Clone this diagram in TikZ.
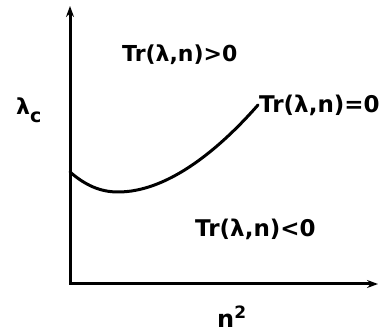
\documentclass[tikz,border=0pt]{standalone}
\usepackage{fontspec}
\setmainfont{DejaVu Sans}
\usetikzlibrary{positioning,arrows.meta}

\begin{document}
\begin{tikzpicture}[
  x=1pt, y=1pt,
  font=\bfseries\fontsize{22}{26}\selectfont,
  axis/.style={line width=3pt, line join=miter,
               {Stealth[length=11pt,width=8pt]}-{Stealth[length=11pt,width=8pt]}},
  curve/.style={line width=3pt, line cap=round},
  lbl/.style={inner sep=0pt, anchor=base west}
]
\useasboundingbox (0,0) rectangle (390,334);
% axes
\coordinate (O) at (70,50);
\coordinate (ytip) at (70,328);
\coordinate (xtip) at (378,50);
\draw[axis] (ytip) -- (O) -- (xtip);
% marginal curve
\coordinate (c0) at (70,162);
\coordinate (cmin) at (118,142);
\coordinate (c1) at (258,229);
\draw[curve] (c0) .. controls (85,149) and (100,142) .. (cmin)
  .. controls (165,142) and (215,180) .. (c1);
% region labels
\node[lbl] (pos) at (122,272) {Tr(λ,n)>0};
\node[lbl, font=\bfseries\fontsize{23}{26}\selectfont] (zero) at ([shift={(1,-8)}]c1) {Tr(λ,n)=0};
\node[lbl, font=\bfseries\fontsize{23}{26}\selectfont] (neg) at (195,97) {Tr(λ,n)<0};
% axis labels
\node[lbl] (lam) at (16,219) {λ\raisebox{-8pt}{\fontsize{19}{19}\selectfont c}};
\node[lbl] (nsq) at (217,7) {\fontsize{24}{24}\selectfont n\raisebox{9pt}{\fontsize{17}{17}\selectfont 2}};
\end{tikzpicture}
\end{document}
